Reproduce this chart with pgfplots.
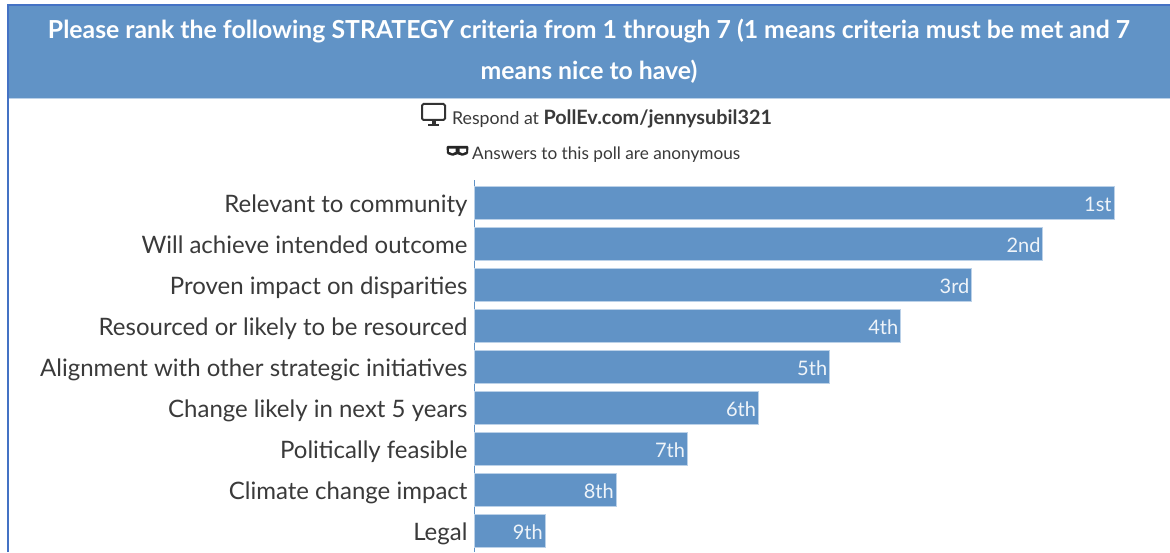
\documentclass[border=0pt]{standalone}
\usepackage{fontspec}
\setmainfont{Lato}
\usepackage{pgfplots}
\pgfplotsset{compat=1.18}
\definecolor{pollblue}{HTML}{6193C6}
\definecolor{edgeblue}{HTML}{BBD1E8}
\definecolor{frameblue}{HTML}{4472C4}
\definecolor{inkgrey}{HTML}{3A3A3A}
\begin{document}
\begin{tikzpicture}[x=1pt,y=1pt]
\path[use as bounding box] (0,0) rectangle (1170,552);
\fill[white] (0,0) rectangle (1170,552);
% header
\fill[pollblue] (7,454) rectangle (1170,546);
\draw[edgeblue,line width=1pt] (7,453.5) -- (1170,453.5);
\draw[frameblue,line width=2pt] (7.5,0) -- (7.5,546.5) -- (1170,546.5);
\node[white,font=\fontsize{24.8}{24.8}\selectfont\bfseries] at (589,521) {Please rank the following STRATEGY criteria from 1 through 7 (1 means criteria must be met and 7};
\node[white,font=\fontsize{24.8}{24.8}\selectfont\bfseries] at (589,480) {means nice to have)};
% respond line
\node[inkgrey,font=\fontsize{17.7}{18}\selectfont,anchor=west,inner sep=0pt] at (452,433.5) {Respond at \textbf{\fontsize{19.8}{20}\selectfont PollEv.com/jennysubil321}};
\node[inkgrey,font=\fontsize{17.2}{18}\selectfont,anchor=west,inner sep=0pt] at (472,397.5) {Answers to this poll are anonymous};
% monitor icon
\draw[black!80,line width=2pt,rounded corners=1.5pt] (422,448) rectangle (445,432);
\fill[black!80] (431.5,432) rectangle (435.5,427);
\fill[black!80] (428,427.5) rectangle (439,425.5);
% mask icon
\fill[black!85,rounded corners=1pt] (446.5,406) -- (468.5,406) -- (468,398) -- (462,396) -- (459,397.5) -- (456,397.5) -- (453,396) -- (447,398) -- cycle;
\fill[white] (449,403.4) -- (455.5,403.4) -- (455.5,400.2) -- (452.5,398.8) -- (449,400.2) -- cycle;
\fill[white] (459.5,403.4) -- (466,403.4) -- (466,400.2) -- (462.5,398.8) -- (459.5,400.2) -- cycle;
\begin{axis}[
  at={(474pt,0pt)},anchor=south west,
  scale only axis,width=640pt,height=372pt,
  xmin=0,xmax=9,
  ymin=-0.561,ymax=8.512,
  y dir=reverse,
  axis x line=none,
  axis y line=left,
  axis line style={-,draw=pollblue,line width=1pt},
  y axis line style={draw=pollblue},
  every outer y axis line/.append style={draw=pollblue},
  ytick={0,1,2,3,4,5,6,7,8},
  yticklabels={Relevant to community,Will achieve intended outcome,Proven impact on disparities,Resourced or likely to be resourced,Alignment with other strategic initiatives,Change likely in next 5 years,Politically feasible,Climate change impact,Legal},
  major tick length=0pt,
  y tick label style={font=\fontsize{24}{24}\selectfont,text=inkgrey,xshift=-3pt,text height=17pt,text depth=5pt,yshift=-3.5pt},
  xbar,
  bar width=33pt,
  point meta=explicit symbolic,
  nodes near coords,
  nodes near coords align={anchor=east},
  every node near coord/.append style={font=\fontsize{20}{20}\selectfont,text=white!90!pollblue,inner sep=2pt,yshift=-1pt},
  clip=false,
]
\addplot[fill=pollblue,draw=edgeblue,line width=0.8pt] coordinates {
 (9,0)[1st] (8,1)[2nd] (7,2)[3rd] (6,3)[4th] (5,4)[5th] (4,5)[6th] (3,6)[7th] (2,7)[8th] (1,8)[9th]};
\end{axis}
\end{tikzpicture}
\end{document}
